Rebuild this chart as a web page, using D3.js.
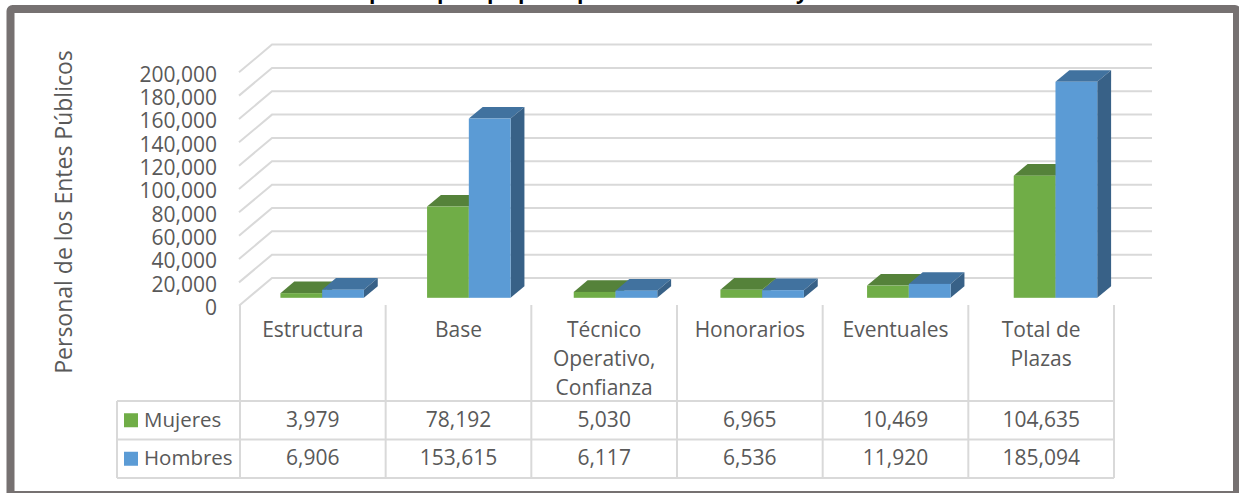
<!DOCTYPE html>
<html lang="es">
<head>
<meta charset="utf-8">
<script src="https://cdn.jsdelivr.net/npm/d3@7/dist/d3.min.js"></script>
<style>
html,body{margin:0;padding:0;background:#fff;overflow:hidden}
svg{display:block}
text{font-family:"Open Sans",sans-serif;fill:#595959}
</style>
</head>
<body>
<svg id="chart" width="1239" height="493"></svg>
<script>
const categories = ["Estructura","Base","Técnico Operativo, Confianza","Honorarios","Eventuales","Total de Plazas"];
const categoryLines = [["Estructura"],["Base"],["Técnico","Operativo,","Confianza"],["Honorarios"],["Eventuales"],["Total de","Plazas"]];
const seriesNames = ["Mujeres","Hombres"];
const mujeres = [3979,78192,5030,6965,10469,104635];
const hombres = [6906,153615,6117,6536,11920,185094];
const yTicks = [0,20000,40000,60000,80000,100000,120000,140000,160000,180000,200000];
const axisTitle = "Personal de los Entes Públicos";
const titleFragments = ["p","p","p","p","p","y"];

const seriesValues = [mujeres, hombres];
const colors = [
  {front:"#70ad47", top:"#55823a", side:"#4f7a33"},
  {front:"#5b9bd5", top:"#41729f", side:"#386187"}
];
const fmt = d3.format(",");
const svg = d3.select("#chart");

// Layout
const floorDX = 33, floorDY = 27.7;
const y = d3.scaleLinear().domain([0,200000]).range([305.7,72.3]);
const xFloor = d3.scaleBand().domain(categories).range([239,1119]);
const xBar = d3.scaleBand().domain(seriesNames).range([32,115.5]);
const xTable = d3.scaleBand().domain(categories).range([240,1114]);
const depthFront = 0.285, depthBack = 0.705;
const project = (px, value, depth) => [px + depth*floorDX, y(value) - depth*floorDY];
const line = d3.line();

// Clipped title above the frame: only descenders are visible in the picture
const titleX = [369,437,487,518,577,796];
svg.append("g").selectAll("text").data(titleFragments).join("text")
  .attr("x",(d,i)=>titleX[i]).attr("y",-1)
  .style("font-size","21px").style("font-weight","700").style("fill","#000")
  .text(d=>d);

// Frame
svg.append("rect").attr("x",10.5).attr("y",9).attr("width",1226.5).attr("height",486).attr("rx",2)
  .attr("fill","#fff").attr("stroke","#767171").attr("stroke-width",8);

// Gridlines (wall and side wall)
svg.append("g").selectAll("path").data(yTicks).join("path")
  .attr("d",d=>line([[239,y(d)],[239+floorDX,y(d)-floorDY],[1119+floorDX,y(d)-floorDY]]))
  .attr("fill","none").attr("stroke","#d9d9d9").attr("stroke-width",2);

// Y axis
const axis = svg.append("g").attr("transform","translate(223,2)")
  .call(d3.axisLeft(y).tickValues(yTicks).tickFormat(fmt).tickSize(0).tickPadding(6));
axis.select(".domain").remove();
axis.selectAll("text").style("font-size","21px").attr("fill",null);

// Axis title
svg.append("text").attr("transform","translate(72,212) rotate(-90)")
  .attr("text-anchor","middle").style("font-size","23px").text(axisTitle);

// 3D bars
const barG = svg.append("g");
categories.forEach((cat,ci)=>{
  seriesNames.forEach((s,si)=>{
    const v = seriesValues[si][ci];
    const x0 = xFloor(cat)+xBar(s), x1 = x0+xBar.bandwidth();
    const c = colors[si];
    const g = barG.append("g");
    g.append("path").attr("fill",c.top).attr("d",line([
      project(x0,v,depthFront),project(x1,v,depthFront),project(x1,v,depthBack),project(x0,v,depthBack)])+"Z");
    g.append("path").attr("fill",c.side).attr("d",line([
      project(x1,0,depthFront),project(x1,v,depthFront),project(x1,v,depthBack),project(x1,0,depthBack)])+"Z");
    const [fx0,fy1] = project(x0,v,depthFront);
    const [fx1,fy0] = project(x1,0,depthFront);
    g.append("rect").attr("x",fx0).attr("y",fy1).attr("width",fx1-fx0).attr("height",fy0-fy1).attr("fill",c.front);
  });
});

// Data table
const rowY = [401,439.5,478];
const tableLeft = 117;
const gridStroke = "#d9d9d9";
const tg = svg.append("g").attr("stroke",gridStroke).attr("stroke-width",2);
const colEdges = categories.map(c=>xTable(c)).concat([xTable.range()[1]]);
colEdges.forEach(x=>tg.append("line").attr("x1",x).attr("x2",x).attr("y1",305).attr("y2",rowY[2]));
tg.append("line").attr("x1",tableLeft).attr("x2",tableLeft).attr("y1",rowY[0]).attr("y2",rowY[2]);
rowY.forEach(yy=>tg.append("line").attr("x1",tableLeft).attr("x2",colEdges[6]).attr("y1",yy).attr("y2",yy));

// Category labels
categories.forEach((cat,ci)=>{
  const t = svg.append("text").attr("text-anchor","middle").style("font-size","21px");
  categoryLines[ci].forEach((ln,li)=>{
    t.append("tspan").attr("x",xTable(cat)+xTable.bandwidth()/2).attr("y",337+li*29.2).text(ln);
  });
});

// Rows
seriesNames.forEach((s,si)=>{
  const cy = (rowY[si]+rowY[si+1])/2;
  svg.append("rect").attr("x",124).attr("y",cy-7).attr("width",14).attr("height",14).attr("fill",colors[si].front);
  svg.append("text").attr("x",144).attr("y",cy+6.5).style("font-size","20.5px").text(s);
  categories.forEach((cat,ci)=>{
    svg.append("text").attr("text-anchor","middle")
      .attr("x",xTable(cat)+xTable.bandwidth()/2).attr("y",cy+6.5)
      .style("font-size","21px").text(fmt(seriesValues[si][ci]));
  });
});
</script>
</body>
</html>
